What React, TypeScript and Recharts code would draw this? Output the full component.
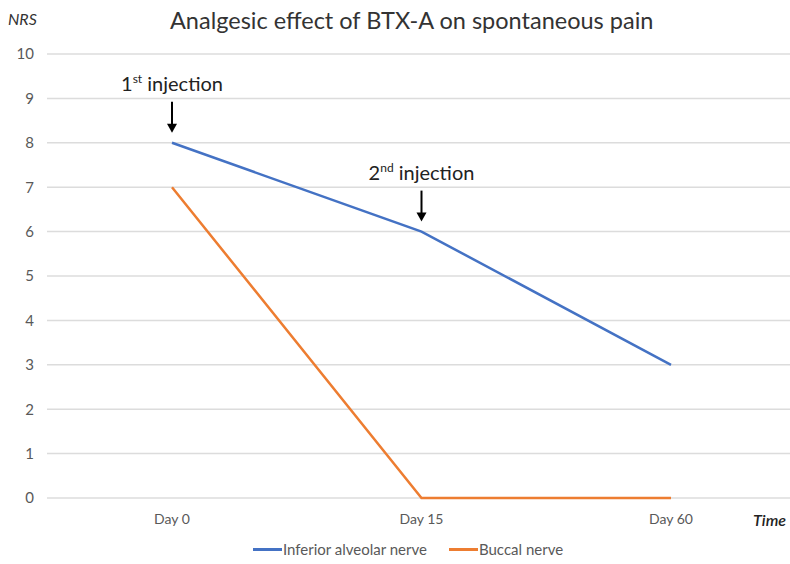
import { CartesianGrid, Legend, Line, LineChart, ReferenceDot, XAxis, YAxis } from "recharts";

const days = ["Day  0", "Day 15", "Day 60"];
const inferiorAlveolar = [8, 6, 3];
const buccal = [7, 0, 0];
const yTicks = [0, 1, 2, 3, 4, 5, 6, 7, 8, 9, 10];

const injections = [
	{ day: "Day  0", nrs: 8, nth: "1", sup: "st" },
	{ day: "Day 15", nrs: 6, nth: "2", sup: "nd" },
];

const data = days.map((d, i) => ({ day: d, ian: inferiorAlveolar[i], buccal: buccal[i] }));

const FONT = "Lato, 'Open Sans', sans-serif";

function InjectionMark({ cx, cy, nth, sup }: any) {
	const top = cy - 41;
	const tip = cy - 10;
	return (
		<g>
			<text x={cx} y={cy - 52} textAnchor="middle" fontSize={20} fill="#222" fontFamily={FONT}>
				<tspan>{nth}</tspan>
				<tspan fontSize={12} dy={-8}>{sup}</tspan>
				<tspan dy={8}> injection</tspan>
			</text>
			<line x1={cx} y1={top} x2={cx} y2={tip - 8} stroke="#000" strokeWidth={2} />
			<path d={`M${cx - 5},${tip - 9} L${cx + 5},${tip - 9} L${cx},${tip} Z`} fill="#000" />
		</g>
	);
}

function LegendRow({ payload }: any) {
	const items = [...(payload || [])].sort((a: any, b: any) => (a.dataKey === "ian" ? -1 : b.dataKey === "ian" ? 1 : 0));
	return (
		<div style={{ display: "flex", height: 22, alignItems: "center", fontFamily: FONT, fontSize: 15, color: "#595959" }}>
			{items.map((it: any) => (
				<div key={it.value} style={{ display: "flex", alignItems: "center", marginRight: 22 }}>
					<span style={{ display: "inline-block", width: 29, height: 3, background: it.color, marginRight: 1 }} />
					<span>{it.value}</span>
				</div>
			))}
		</div>
	);
}

export default function App() {
	return (
		<div style={{ position: "absolute", left: 0, top: 0, width: 790, height: 564, background: "#fff", fontFamily: FONT }}>
			<div style={{ position: "absolute", left: 170, top: 6, whiteSpace: "nowrap", fontSize: 23.5, color: "#333" }}>
				Analgesic effect of BTX-A on spontaneous pain
			</div>
			<div style={{ position: "absolute", left: 8, top: 9, fontSize: 16, fontStyle: "italic", color: "#333" }}>NRS</div>
			<div style={{ position: "absolute", left: 753, top: 510, fontSize: 16, fontStyle: "italic", fontWeight: 600, color: "#222" }}>
				Time
			</div>
			<LineChart width={790} height={564} data={data} margin={{ top: 54, right: 0, left: 0, bottom: 14 }}>
				<CartesianGrid vertical={false} stroke="#dcdcdc" strokeWidth={1.5} />
				<XAxis
					dataKey="day"
					padding={{ left: 125, right: 119 }}
					axisLine={false}
					tickLine={false}
					tickSize={0}
					tickMargin={16}
					height={30}
					tick={{ fill: "#595959", fontSize: 14, fontFamily: FONT }}
				/>
				<YAxis
					domain={[0, 10]}
					ticks={yTicks}
					width={47}
					axisLine={false}
					tickLine={false}
					tickSize={0}
					tickMargin={13}
					tick={{ fill: "#595959", fontSize: 15, fontFamily: FONT }}
				/>
				<Legend
					verticalAlign="bottom"
					content={<LegendRow />}
					wrapperStyle={{ left: 253, bottom: 4, width: "auto" }}
				/>
				<Line
					dataKey="ian"
					name="Inferior alveolar nerve"
					stroke="#4472c4"
					strokeWidth={2.5}
					dot={false}
					activeDot={false}
					isAnimationActive={false}
				/>
				<Line
					dataKey="buccal"
					name="Buccal nerve"
					stroke="#ed7d31"
					strokeWidth={2.5}
					dot={false}
					activeDot={false}
					isAnimationActive={false}
				/>
				{injections.map((inj) => (
					<ReferenceDot
						key={inj.day}
						x={inj.day}
						y={inj.nrs}
						r={0}
						shape={(p: any) => <InjectionMark cx={p.cx} cy={p.cy} nth={inj.nth} sup={inj.sup} />}
					/>
				))}
			</LineChart>
		</div>
	);
}
